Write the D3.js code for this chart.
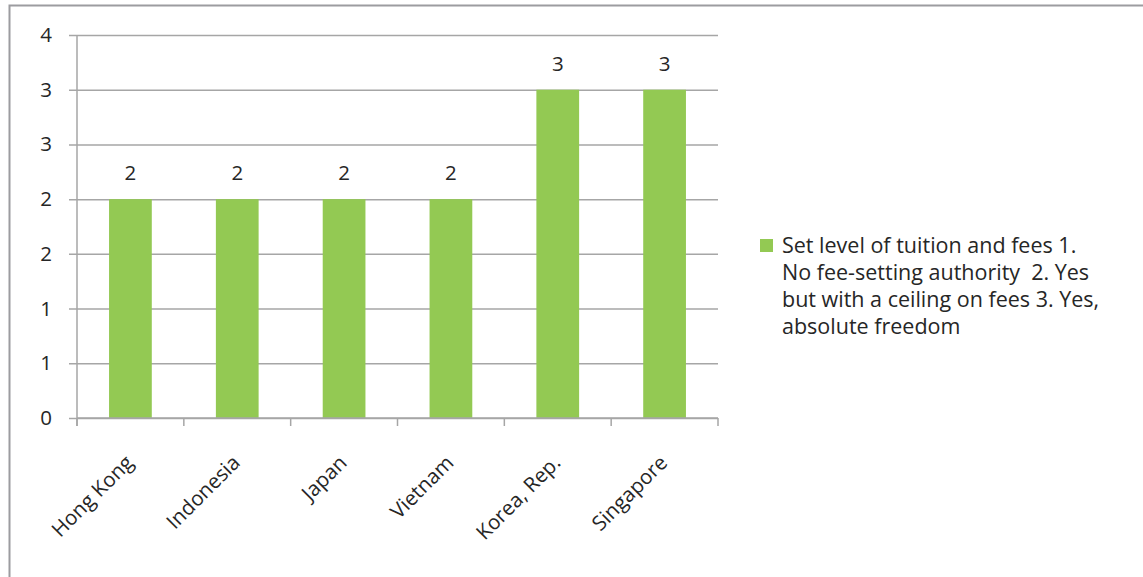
<!DOCTYPE html>
<html>
<head>
<meta charset="utf-8">
<script src="https://cdn.jsdelivr.net/npm/d3@7"></script>
<style>
  html, body { margin: 0; padding: 0; background: #fff; }
  svg { display: block; }
  text { font-family: "Open Sans", Lato, sans-serif; fill: #262626; }
</style>
</head>
<body>
<svg id="chart" width="1143" height="577"></svg>
<script>
// Fee-setting authority by economy
const countries = ["Hong Kong", "Indonesia", "Japan", "Vietnam", "Korea, Rep.", "Singapore"];
const feeLevels = [2, 2, 2, 2, 3, 3];
const yTicks = [0, 0.5, 1, 1.5, 2, 2.5, 3, 3.5];
const legendLines = [
  "Set level of tuition and fees 1.",
  "No fee-setting authority  2. Yes",
  "but with a ceiling on fees 3. Yes,",
  "absolute freedom"
];

const svg = d3.select("#chart");
const plot = { left: 77, right: 718, top: 35, bottom: 418 };
const barColor = "#93c953";
const gridColor = "#a6a6a6";
const fontSize = 20.5;
const legendFontSize = 21.5;

// outer frame (right and bottom edges fall outside the view)
svg.append("rect")
  .attr("x", 9.5).attr("y", 5.5)
  .attr("width", 1145).attr("height", 580)
  .attr("fill", "none").attr("stroke", "#9c9ca0").attr("stroke-width", 2);

const x = d3.scaleBand()
  .domain(countries)
  .range([plot.left, plot.right])
  .paddingInner(0.6)
  .paddingOuter(0.3);

const y = d3.scaleLinear()
  .domain([0, 3.5])
  .range([plot.bottom, plot.top]);

// labels rounded half-up to whole numbers
const fmt = v => String(Math.round(v));

// horizontal gridlines with outside tick marks
const yAxis = svg.append("g")
  .attr("transform", `translate(${plot.left},0)`)
  .call(d3.axisLeft(y)
    .tickValues(yTicks)
    .tickFormat(fmt)
    .tickSize(-(plot.right - plot.left))
    .tickSizeOuter(0)
    .tickPadding(25));
yAxis.select(".domain").remove();
yAxis.selectAll(".tick line")
  .attr("x1", -8)
  .attr("stroke", gridColor).attr("stroke-width", 1.5);
yAxis.selectAll(".tick text")
  .attr("font-size", fontSize)
  .attr("font-family", "'Open Sans', Lato, sans-serif")
  .attr("fill", "#262626");

// vertical axis line
svg.append("line")
  .attr("x1", plot.left).attr("x2", plot.left)
  .attr("y1", plot.top).attr("y2", plot.bottom + 8)
  .attr("stroke", gridColor).attr("stroke-width", 1.5);

// bars
svg.append("g").selectAll("rect")
  .data(countries)
  .join("rect")
  .attr("x", (d) => x(d))
  .attr("y", (d, i) => y(feeLevels[i]))
  .attr("width", x.bandwidth())
  .attr("height", (d, i) => y(0) - y(feeLevels[i]))
  .attr("fill", barColor);

// data labels
svg.append("g").selectAll("text")
  .data(countries)
  .join("text")
  .attr("x", d => x(d) + x.bandwidth() / 2)
  .attr("y", (d, i) => y(feeLevels[i]) - 19)
  .attr("text-anchor", "middle")
  .attr("font-size", fontSize)
  .text((d, i) => fmt(feeLevels[i]));

// category axis with boundary ticks
const step = x.step();
const bounds = d3.range(countries.length + 1).map(i => plot.left + i * step);
svg.append("line")
  .attr("x1", plot.left).attr("x2", plot.right)
  .attr("y1", plot.bottom).attr("y2", plot.bottom)
  .attr("stroke", gridColor).attr("stroke-width", 1.5);
svg.append("g").selectAll("line")
  .data(bounds)
  .join("line")
  .attr("x1", d => d).attr("x2", d => d)
  .attr("y1", plot.bottom).attr("y2", plot.bottom + 8)
  .attr("stroke", gridColor).attr("stroke-width", 1.5);

svg.append("g").selectAll("text")
  .data(countries)
  .join("text")
  .attr("transform", d => `translate(${x(d) + x.bandwidth() / 2 + 4},${plot.bottom + 46}) rotate(-45)`)
  .attr("text-anchor", "end")
  .attr("font-size", fontSize)
  .text(d => d);

// legend
const legend = svg.append("g");
legend.append("rect")
  .attr("x", 760).attr("y", 239)
  .attr("width", 13).attr("height", 13)
  .attr("fill", barColor);
legend.append("text")
  .attr("x", 782).attr("y", 253)
  .attr("font-size", legendFontSize)
  .selectAll("tspan")
  .data(legendLines)
  .join("tspan")
  .attr("x", 782)
  .attr("dy", (d, i) => i === 0 ? 0 : 27)
  .style("white-space", "pre")
  .text(d => d);
</script>
</body>
</html>
